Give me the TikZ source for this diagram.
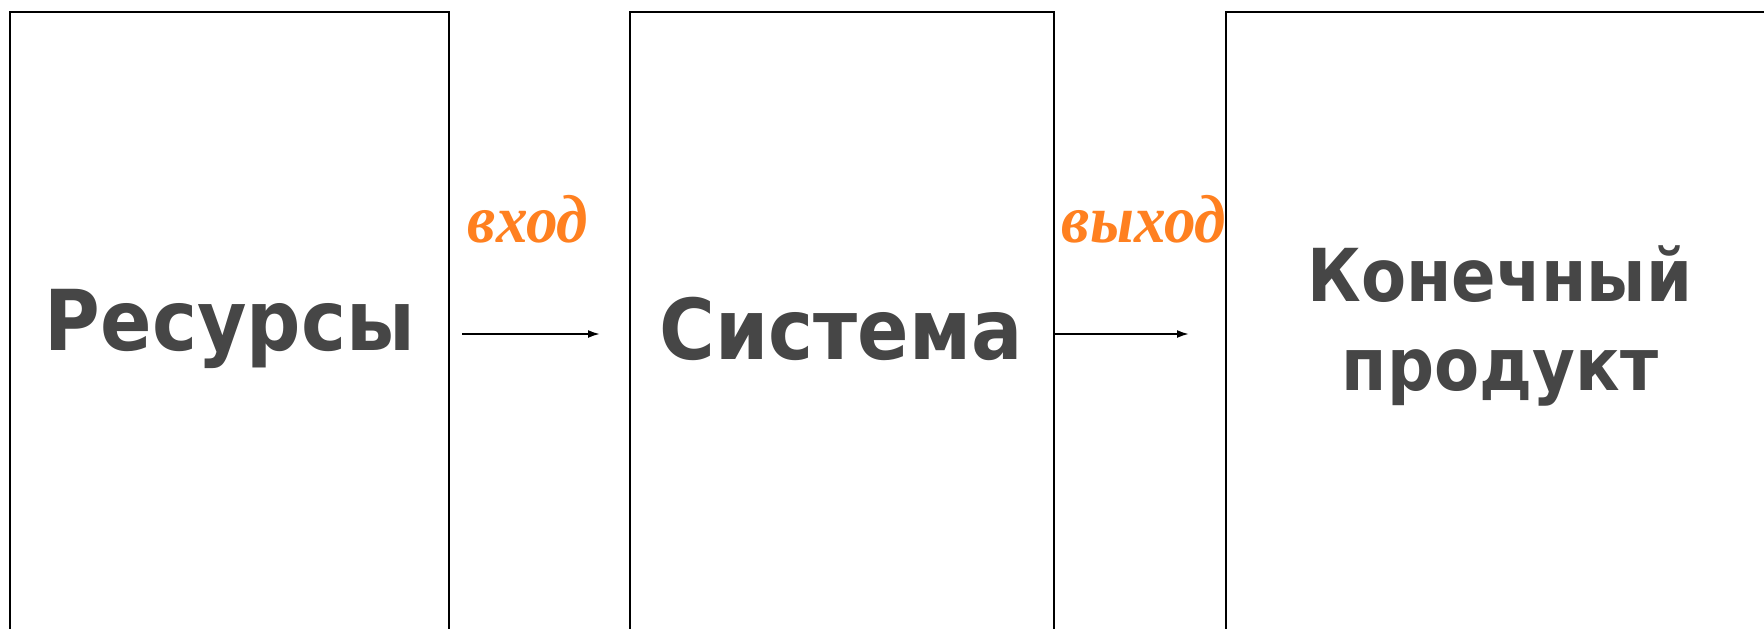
\documentclass[tikz,border=0pt]{standalone}
\usepackage{fontspec}
\setmainfont{DejaVu Sans}
\newfontfamily\boxfont{DejaVu Sans}[FakeStretch=0.905]
\newfontfamily\prodfont{DejaVu Sans}[FakeStretch=0.90]
\newfontfamily\labfont{Liberation Serif}[FakeStretch=0.93]
\usetikzlibrary{arrows.meta}
\definecolor{txtgray}{HTML}{464646}
\definecolor{laborange}{HTML}{FF8020}
\tikzset{
  boxshape/.style={draw=black, line width=2pt, minimum width=#1, minimum height=680pt, anchor=north west, inner sep=0pt},
  boxtext/.style={font=\boxfont\fontsize{84}{90}\selectfont\bfseries, text=txtgray, align=center},
  prodtextstyle/.style={font=\prodfont\fontsize{73}{89}\selectfont\bfseries, text=txtgray, align=center},
  flowlabel/.style={font=\labfont\fontsize{68}{70}\selectfont\bfseries\itshape, text=laborange, inner sep=0pt, anchor=base},
  flowarrow/.style={line width=2pt, -{Latex[length=12pt,width=8pt]}}
}
\begin{document}
\begin{tikzpicture}[x=1pt,y=-1pt]
\useasboundingbox (0,0) rectangle (1764,629);
\clip (0,0) rectangle (1764,629);
\node[boxshape=439pt] (res) at (9,11) {};
\node[boxshape=424pt] (sys) at (629,11) {};
\node[boxshape=600pt] (prod) at (1225,11) {};
\node[boxtext] (restext) at (230,329) {Ресурсы};
\node[boxtext] (systext) at (841,329) {Система};
\node[prodtextstyle] (prodtext) at (1500,326) {Конечный\\продукт};
\coordinate (a1s) at (462,334);
\coordinate (a1e) at (600,334);
\coordinate (a2s) at (1053,334);
\coordinate (a2e) at (1189,334);
\draw[flowarrow] (a1s) -- (a1e);
\draw[flowarrow] (a2s) -- (a2e);
\node[flowlabel] (inlab) at (528,242) {вход};
\node[flowlabel] (outlab) at (1144,242) {выход};
\end{tikzpicture}
\end{document}
